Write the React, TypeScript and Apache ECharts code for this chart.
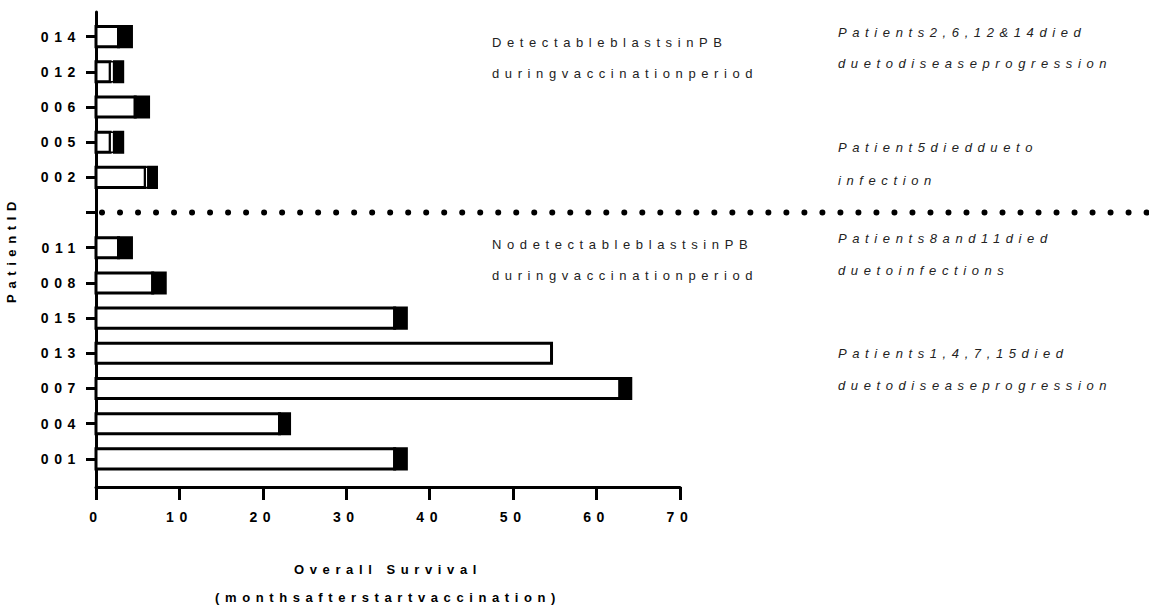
import React, { useEffect, useRef } from "react";
import * as echarts from "echarts";

// Rows from bottom (slot 0) to top (slot 12); slot 7 is the empty separator row.
const patientIds = ["001", "004", "007", "013", "015", "008", "011", "", "002", "005", "006", "012", "014"];
// end of the first white part (months)
const firstWhiteEnd = [35.8, 22.0, 62.8, 54.6, 35.8, 6.8, 2.7, null, 5.9, 1.7, 4.7, 1.7, 2.7];
// start of the black part (months)
const blackStart = [35.8, 22.0, 62.8, 54.6, 35.8, 6.8, 2.7, null, 6.3, 2.2, 4.7, 2.2, 2.7];
// overall survival (months)
const survival = [37.2, 23.2, 64.1, 54.6, 37.2, 8.3, 4.25, null, 7.25, 3.2, 6.3, 3.2, 4.25];
const separatorSlot = 7;

const xMin = 0;
const xMax = 70;
const xStep = 10;

const leftNotes = [
  { text: "DetectableblastsinPB", y: 42 },
  { text: "duringvaccinationperiod", y: 73 },
  { text: "NodetectableblastsinPB", y: 244 },
  { text: "duringvaccinationperiod", y: 275 },
];
const rightNotes = [
  { text: "Patients2,6,12&14died", y: 32 },
  { text: "duetodiseaseprogression", y: 63 },
  { text: "Patient5dieddueto", y: 147 },
  { text: "infection", y: 180 },
  { text: "Patients8and11died", y: 238 },
  { text: "duetoinfections", y: 270 },
  { text: "Patients1,4,7,15died", y: 353 },
  { text: "duetodiseaseprogression", y: 385 },
];

const FONT = '"Liberation Sans", Arial, Helvetica, sans-serif';

export default function App() {
  const ref = useRef<HTMLDivElement>(null);

  useEffect(() => {
    if (!ref.current) return;
    const chart = echarts.init(ref.current, null, { renderer: "svg" });

    const segs: any[] = [];
    for (let i = 0; i < patientIds.length; i++) {
      const s = survival[i];
      if (s == null) continue;
      const w = firstWhiteEnd[i] as number;
      const b = blackStart[i] as number;
      segs.push([i, 0, w, 0]);
      if (b > w) segs.push([i, w, b, 1]);
      if (s > b) segs.push([i, b, s, 2]);
    }

    const slots = patientIds.map((_, i) => i);

    chart.setOption({
      animation: false,
      backgroundColor: "#fff",
      grid: { left: 96, right: 1149 - 680, top: 12, bottom: 609 - 487, outerBoundsMode: "none" },
      xAxis: {
        type: "value",
        min: xMin,
        max: xMax,
        interval: xStep,
        splitLine: { show: false },
        axisLine: { show: true, onZero: false, lineStyle: { color: "#000", width: 3 } },
        axisTick: { show: true, length: 13, lineStyle: { color: "#000", width: 3 } },
        axisLabel: {
          color: "#000",
          fontFamily: FONT,
          fontWeight: "bold",
          fontSize: 14,
          margin: 23,
        },
        name: "Overall Survival\n(monthsafterstartvaccination)",
        nameLocation: "middle",
        nameGap: 68,
        nameTextStyle: {
          color: "#000",
          fontFamily: FONT,
          fontWeight: "bold",
          fontSize: 13,
          lineHeight: 28,
        },
      },
      yAxis: {
        type: "value",
        min: -0.8,
        max: 12.7,
        splitLine: { show: false },
        axisLine: { show: true, onZero: false, lineStyle: { color: "#000", width: 3 } },
        axisTick: {
          show: true,
          length: 10,
          customValues: slots,
          lineStyle: { color: "#000", width: 3 },
        },
        axisLabel: {
          customValues: slots.filter((i) => patientIds[i] !== ""),
          formatter: (v: number) => patientIds[Math.round(v)] || "",
          color: "#000",
          fontFamily: FONT,
          fontWeight: "bold",
          fontSize: 14,
          margin: 15,
          padding: [8, 0, 0, 0],
        },
        name: "PatientID",
        nameLocation: "middle",
        nameRotate: 90,
        nameGap: 78,
        nameTextStyle: {
          color: "#000",
          fontFamily: FONT,
          fontWeight: "bold",
          fontSize: 13,
        },
      },
      series: [
        {
          type: "custom",
          encode: { x: [1, 2], y: 0 },
          data: segs,
          renderItem: (params: any, api: any) => {
            const slot = api.value(0);
            const a = api.value(1);
            const b = api.value(2);
            const kind = api.value(3);
            const p0 = api.coord([a, slot]);
            const p1 = api.coord([b, slot]);
            const h = api.size([0, 1])[1] * 0.57;
            return {
              type: "rect",
              shape: { x: p0[0], y: p0[1] - h / 2, width: p1[0] - p0[0], height: h },
              style: {
                fill: kind === 2 ? "#000" : "#fff",
                stroke: "#000",
                lineWidth: kind === 1 ? 1.5 : 3,
              },
            };
          },
        },
      ],
    });

    const ySep = chart.convertToPixel({ yAxisIndex: 0 }, separatorSlot) as number;
    const x0 = chart.convertToPixel({ xAxisIndex: 0 }, 0) as number;

    const graphics: any[] = [];
    leftNotes.forEach((n) =>
      graphics.push({
        type: "text",
        x: 492,
        y: n.y,
        style: {
          text: n.text,
          fill: "#222",
          font: `13px ${FONT}`,
          verticalAlign: "middle",
          align: "left",
        },
      })
    );
    rightNotes.forEach((n) =>
      graphics.push({
        type: "text",
        x: 838,
        y: n.y,
        style: {
          text: n.text,
          fill: "#222",
          font: `italic 13px ${FONT}`,
          verticalAlign: "middle",
          align: "left",
        },
      })
    );
    graphics.push({
      type: "line",
      shape: { x1: x0 + 6, y1: ySep, x2: 1149, y2: ySep },
      style: { stroke: "#000", lineWidth: 6, lineDash: [0.01, 18], lineCap: "round" },
    });
    chart.setOption({ graphic: graphics });

    return () => chart.dispose();
  }, []);

  return (
    <>
      <style>{`#root text{letter-spacing:5.6px;}`}</style>
      <div
        ref={ref}
        style={{ position: "absolute", left: 0, top: 0, width: 1149, height: 609 }}
      />
    </>
  );
}
